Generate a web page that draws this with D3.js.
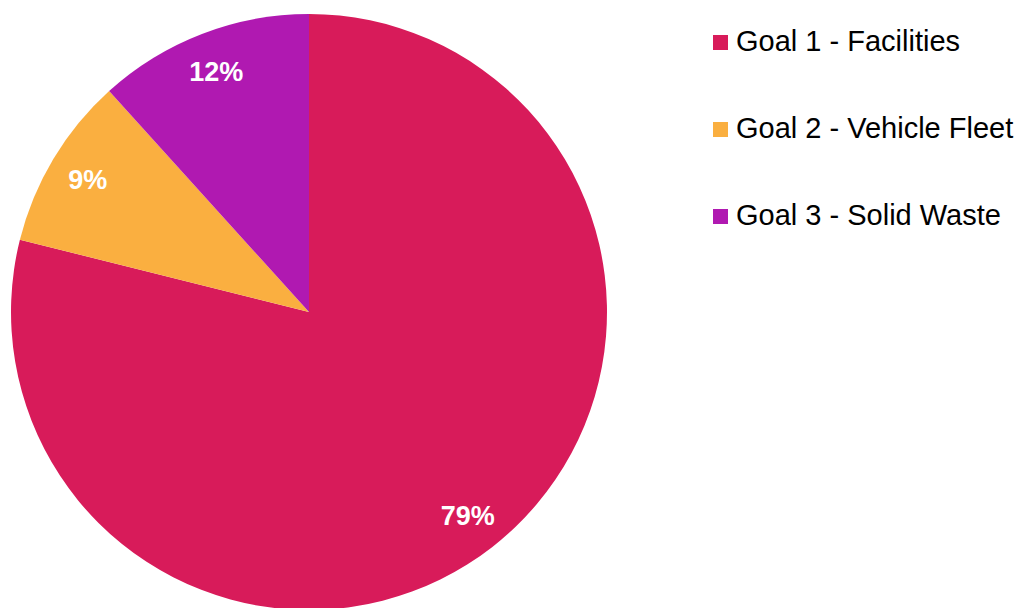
<!DOCTYPE html>
<html>
<head>
<meta charset="utf-8">
<script src="https://cdn.jsdelivr.net/npm/d3@7"></script>
<style>
  body { margin: 0; background: #fff; }
  svg { display: block; font-family: "Liberation Sans", Arial, sans-serif; }
</style>
</head>
<body>
<svg id="chart" width="1021" height="608"></svg>
<script>
// Chart data (shares, labels shown rounded)
const categories = ["Goal 1 - Facilities", "Goal 2 - Vehicle Fleet", "Goal 3 - Solid Waste"];
const shares = [78.9, 9.4, 11.7];
const colors = ["#d81b5a", "#faaf40", "#b019b1"];

const svg = d3.select("#chart");

// Pie geometry
const cx = 309, cy = 312, radius = 298;
const labelRadius = 258;

const data = categories.map((name, i) => ({ name, value: shares[i], color: colors[i] }));

const pie = d3.pie()
    .value(d => d.value)
    .sort(null)
    .startAngle(0)
    .endAngle(2 * Math.PI);

const arc = d3.arc().innerRadius(0).outerRadius(radius);
const labelArc = d3.arc().innerRadius(labelRadius).outerRadius(labelRadius);

const g = svg.append("g").attr("transform", `translate(${cx},${cy})`);

g.selectAll("path.slice")
    .data(pie(data))
    .join("path")
    .attr("class", "slice")
    .attr("d", arc)
    .attr("fill", d => d.data.color);

// Percent labels
g.selectAll("text.pct")
    .data(pie(data))
    .join("text")
    .attr("class", "pct")
    .attr("transform", d => `translate(${labelArc.centroid(d)})`)
    .attr("text-anchor", "middle")
    .attr("dy", "0.36em")
    .attr("fill", "#fff")
    .attr("font-size", 27)
    .attr("font-weight", "bold")
    .text(d => `${Math.round(d.data.value)}%`);

// Legend
const legendY = d3.scalePoint()
    .domain(categories)
    .range([51, 225]);

const legend = svg.append("g");
const rows = legend.selectAll("g.row")
    .data(data)
    .join("g")
    .attr("class", "row")
    .attr("transform", d => `translate(713,${legendY(d.name)})`);

rows.append("rect")
    .attr("x", 0)
    .attr("y", -16)
    .attr("width", 15)
    .attr("height", 15)
    .attr("fill", d => d.color);

rows.append("text")
    .attr("x", 23)
    .attr("y", 0)
    .attr("fill", "#000")
    .attr("font-size", 29)
    .text(d => d.name);
</script>
</body>
</html>
